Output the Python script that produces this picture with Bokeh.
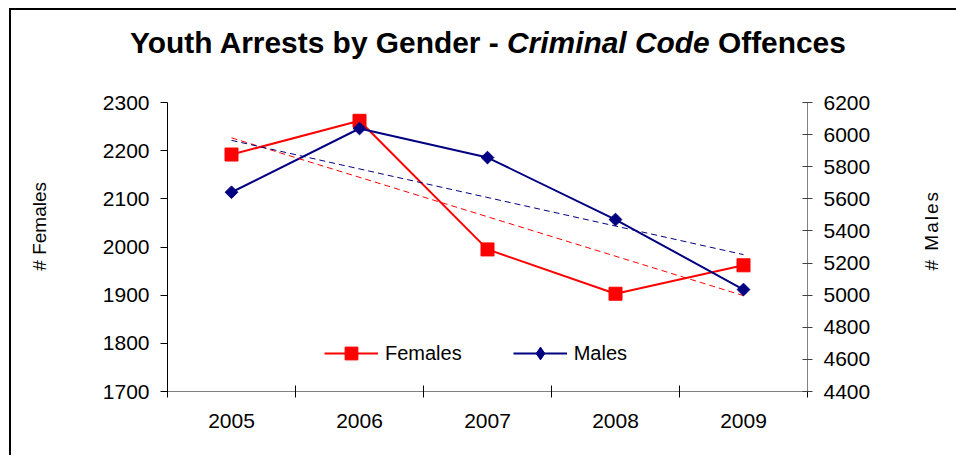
import numpy as np
from bokeh.plotting import figure
from bokeh.layouts import column, row
from bokeh.models import Range1d, LinearAxis, FixedTicker, Legend, LegendItem, Div
from bokeh.embed import file_html
from bokeh.resources import INLINE

# ---- data ----
years = ["2005", "2006", "2007", "2008", "2009"]
females = [2192, 2262, 1995, 1903, 1962]
males = [5641, 6038, 5857, 5471, 5035]
female_ticks = [1700, 1800, 1900, 2000, 2100, 2200, 2300]
male_ticks = [4400, 4600, 4800, 5000, 5200, 5400, 5600, 5800, 6000, 6200]
title_main = "Youth Arrests by Gender - "
title_italic = "Criminal Code"
title_end = " Offences"
left_label = "# Females"
right_label = "# Males"

FONT = "Liberation Sans"
RED = "#FF0000"
NAVY = "#000080"
GRAY = "#808080"

idx = np.arange(len(years))
xc = [float(i) + 0.5 for i in idx]

title = Div(
    text=(f'<div style="padding:18px 0 0 119px; font-family:\'{FONT}\'; '
          f'font-size:29.9px; font-weight:bold; line-height:30px; color:black; '
          f'white-space:nowrap;">{title_main}<i>{title_italic}</i>{title_end}</div>'),
    width=945, height=60, margin=0)


def vertical_label(text, pad_left, pad_top, width, height, spacing=0):
    html = (f'<div style="padding:{pad_top}px 0 0 {pad_left}px;">'
            f'<div style="writing-mode:vertical-rl; transform:rotate(180deg); '
            f'font-family:\'{FONT}\'; font-size:19px; line-height:22px; '
            f'letter-spacing:{spacing}px; white-space:nowrap; color:black;">{text}</div></div>')
    return Div(text=html, width=width, height=height, margin=0)


p = figure(width=829, height=385,
           x_range=Range1d(0, len(years)),
           y_range=Range1d(female_ticks[0], female_ticks[-1]),
           x_axis_type=None, y_axis_type=None,
           output_backend="svg", toolbar_location=None,
           min_border_left=96, min_border_right=93,
           min_border_top=32, min_border_bottom=64)
p.extra_y_ranges = {"males": Range1d(male_ticks[0], male_ticks[-1])}
p.outline_line_color = None
p.background_fill_color = "white"
p.border_fill_color = "white"

# ---- axes ----
xaxis = LinearAxis(
    ticker=FixedTicker(ticks=xc, minor_ticks=[float(i) for i in range(len(years) + 1)]),
    major_label_overrides={v: y for v, y in zip(xc, years)},
    major_tick_line_color=None, major_tick_in=6, major_tick_out=6,
    minor_tick_line_color="black", minor_tick_in=6, minor_tick_out=6,
    axis_line_color=GRAY, axis_line_width=1,
    major_label_text_font=FONT, major_label_text_font_size="21px",
    major_label_text_color="black", major_label_standoff=16)
p.add_layout(xaxis, "below")

laxis = LinearAxis(
    ticker=FixedTicker(ticks=female_ticks),
    major_tick_in=0, major_tick_out=7, major_tick_line_color="black",
    minor_tick_line_color=None, axis_line_color="black",
    major_label_text_font=FONT, major_label_text_font_size="21px",
    major_label_text_color="black", major_label_standoff=11)
p.add_layout(laxis, "left")

raxis = LinearAxis(
    y_range_name="males",
    ticker=FixedTicker(ticks=male_ticks),
    major_tick_in=5, major_tick_out=5, major_tick_line_color="#404040",
    minor_tick_line_color=None, axis_line_color=GRAY,
    major_label_text_font=FONT, major_label_text_font_size="21px",
    major_label_text_color="black", major_label_standoff=11)
p.add_layout(raxis, "right")

# ---- series ----
fl = p.line(xc, females, line_color=RED, line_width=2)
ml = p.line(xc, males, line_color=NAVY, line_width=2, y_range_name="males")

# linear trendlines (least squares of each series)
fc = np.polyfit(idx, females, 1)
mc = np.polyfit(idx, males, 1)
p.line([xc[0], xc[-1]], [np.polyval(fc, idx[0]), np.polyval(fc, idx[-1])],
       line_color=RED, line_width=1, line_dash="6 4")
p.line([xc[0], xc[-1]], [np.polyval(mc, idx[0]), np.polyval(mc, idx[-1])],
       line_color=NAVY, line_width=1, line_dash="6 4", y_range_name="males")

fm = p.scatter(xc, females, marker="square", size=13, fill_color=RED, line_color=RED)
mm = p.scatter(xc, males, marker="square", angle=np.pi / 4, size=9,
               fill_color=NAVY, line_color=NAVY, y_range_name="males")
# diamond used only for the legend swatch (legend swatches are drawn unrotated)
mm_leg = p.scatter(xc, males, marker="diamond", size=13, fill_color=NAVY,
                   line_color=NAVY, y_range_name="males", visible=False)

legend = Legend(items=[LegendItem(label="Females", renderers=[fl, fm]),
                       LegendItem(label="Males", renderers=[ml, mm_leg])],
                orientation="horizontal", location=(157, 22),
                glyph_width=54, glyph_height=32, label_standoff=7, spacing=51,
                padding=0, margin=0, border_line_color=None,
                background_fill_alpha=0,
                label_text_font=FONT, label_text_font_size="20px",
                label_text_color="black")
p.add_layout(legend, "center")

left_div = vertical_label(left_label, 18, 112, 60, 385)
right_div = vertical_label(right_label, 21, 120, 56, 385, spacing=2)

layout = column(title, row(left_div, p, right_div, spacing=0), spacing=0)
layout.styles = {"margin-left": "9px", "margin-top": "8px",
                 "border-left": "2px solid black", "border-top": "2px solid black"}

open("out.html", "w").write(file_html(layout, INLINE))
